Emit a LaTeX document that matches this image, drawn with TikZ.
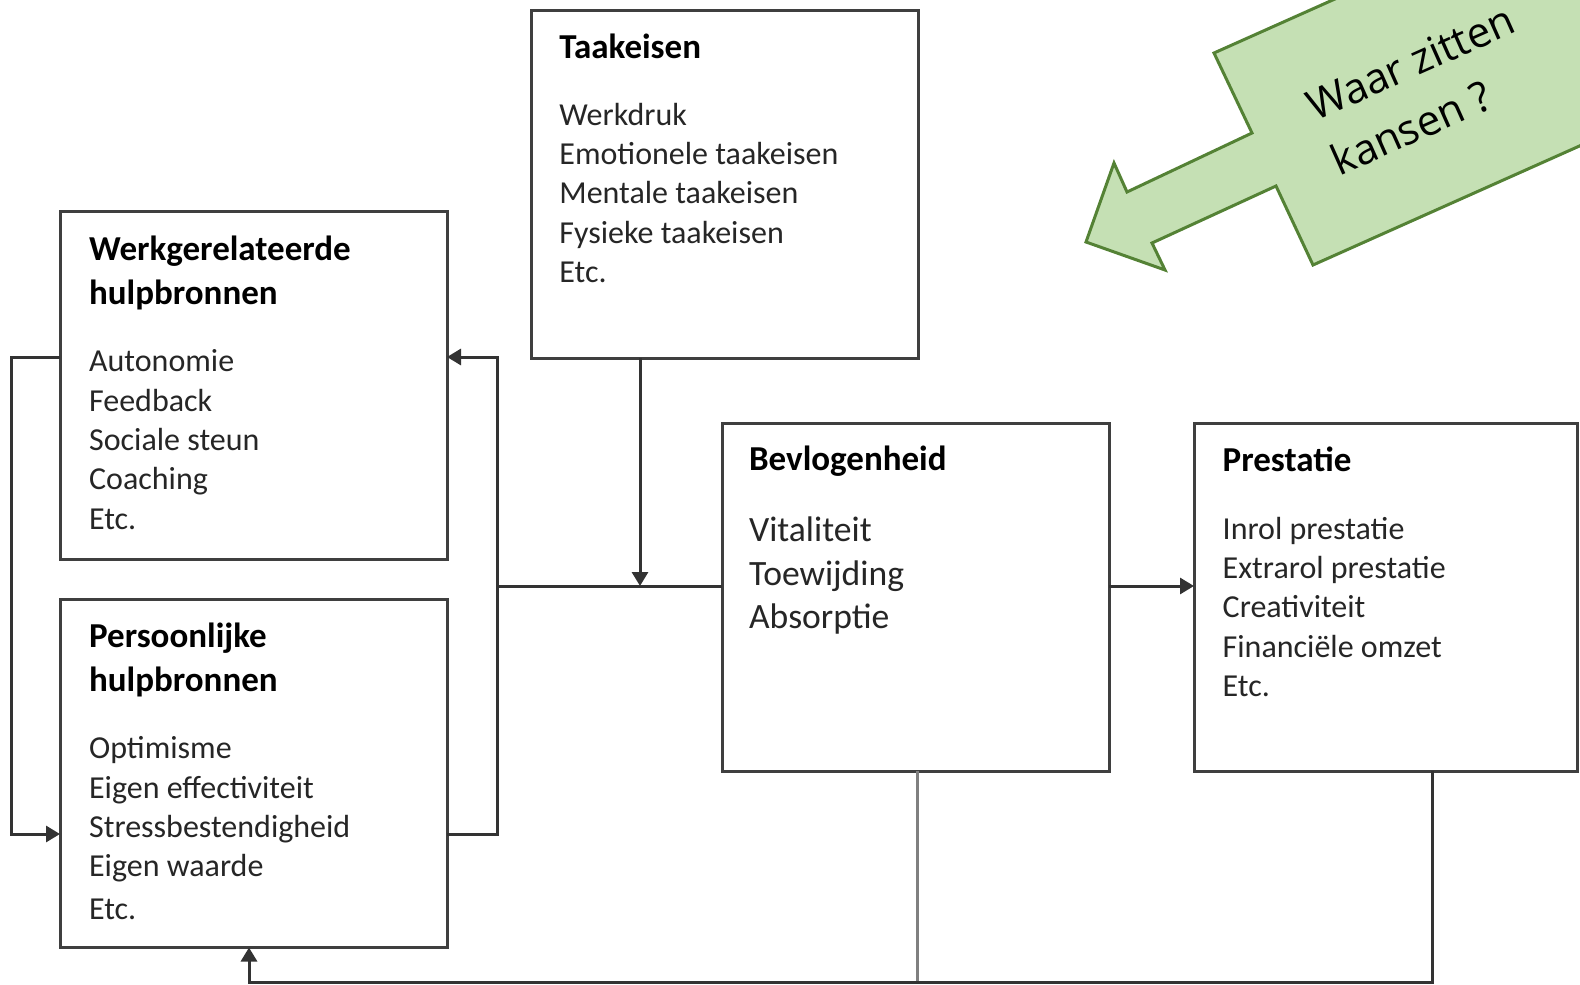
\documentclass[tikz,border=0pt]{standalone}
\usepackage{fontspec}
\setmainfont{Carlito}
\newfontfamily\calloutfont{Open Sans}
\usetikzlibrary{arrows.meta}
\definecolor{boxline}{HTML}{3F3F3F}
\definecolor{connline}{HTML}{333333}
\definecolor{itemtext}{HTML}{262626}
\definecolor{calloutfill}{HTML}{C5E0B4}
\definecolor{calloutline}{HTML}{548235}
\tikzset{
  kader/.style={draw=boxline, line width=1.5pt, fill=white, inner sep=0pt, outer sep=0pt,
    minimum width=193.5pt, minimum height=174pt},
  kop/.style={anchor=north west, align=left, inner sep=0pt, font=\bfseries\fontsize{17.5}{22.15}\selectfont},
  lijst/.style={anchor=north west, align=left, inner sep=0pt, text=itemtext, font=\fontsize{16}{19.65}\selectfont},
  verbinding/.style={draw=connline, line width=1.5pt},
  pijl/.style={verbinding, -{Triangle[length=7pt,width=8pt]}},
}
\begin{document}
\begin{tikzpicture}[x=0.5pt, y=-0.5pt]
  \useasboundingbox (0,0) rectangle (1580,985);
  % kaders
  \node[kader] (taak) at (725,184) {};
  \node[kader] (werk) at (253.5,385.5) {};
  \node[kader] (pers) at (253.5,773.5) {};
  \node[kader] (bev) at (915.5,597) {};
  \node[kader, minimum width=191.5pt] (prest) at (1385.5,597) {};

  % teksten
  \node[kop] (taakkop) at (559,34) {Taakeisen};
  \node[lijst] (taaklijst) at (559,102.5) {Werkdruk\\Emotionele taakeisen\\Mentale taakeisen\\Fysieke taakeisen\\Etc.};
  \node[kop] (werkkop) at (88.7,235.4) {Werkgerelateerde\\hulpbronnen};
  \node[lijst] (werklijst) at (88.7,349.4) {Autonomie\\Feedback\\Sociale steun\\Coaching\\Etc.};
  \node[kop] (perskop) at (88.7,622.4) {Persoonlijke\\hulpbronnen};
  \node[lijst] (perslijst) at (88.7,736.3) {Optimisme\\Eigen effectiviteit\\Stressbestendigheid\\Eigen waarde\\[1.5pt]Etc.};
  \node[kop] (bevkop) at (748.7,446) {Bevlogenheid};
  \node[lijst, font=\fontsize{17.8}{21.9}\selectfont] (bevlijst) at (748.7,516.1) {Vitaliteit\\Toewijding\\Absorptie};
  \node[kop] (prestkop) at (1222.3,446) {Prestatie};
  \node[lijst] (prestlijst) at (1222.3,516.6) {Inrol prestatie\\Extrarol prestatie\\Creativiteit\\Financiële omzet\\Etc.};

  % verbindingen
  \coordinate (lt) at (11,357);
  \coordinate (lb) at (11,834);
  \coordinate (rt) at (497,357);
  \coordinate (rb) at (497,834);
  \coordinate (jn) at (497,586);
  \coordinate (tk) at (640,586);
  \coordinate (bl) at (249,982);
  \coordinate (bm) at (917,982);
  \coordinate (br) at (1432,982);
  \draw[pijl] (werk.west |- lt) -- (lt) -- (lb) -- (pers.west |- lb);
  \draw[pijl] (pers.east |- rb) -- (rb) -- (rt) -- (werk.east |- rt);
  \draw[verbinding] (jn) -- (bev.west |- jn);
  \draw[pijl] (taak.south -| tk) -- (tk);
  \draw[pijl] (bev.east |- jn) -- (prest.west |- jn);
  \draw[verbinding, draw=gray] (bev.south -| bm) -- (bm);
  \draw[pijl] (prest.south -| br) -- (br) -- (bl) -- (pers.south -| bl);

  % groene pijl
  \begin{scope}
    \clip (0,0) rectangle (1580,985);
    \draw[fill=calloutfill, draw=calloutline, line width=1.5pt, line join=miter]
      (1086,242) -- (1114,163) -- (1127,192) -- (1252,133) -- (1214,53) -- (1579,-110)
      -- (1678,102) -- (1313,265) -- (1276,186) -- (1152,243) -- (1165,270) -- cycle;
    \node[rotate=24, align=left, inner sep=0pt, font=\calloutfont\fontsize{21}{30}\selectfont]
      (kansen) at (1423,90) {Waar zitten\\kansen ?};
  \end{scope}
\end{tikzpicture}
\end{document}
